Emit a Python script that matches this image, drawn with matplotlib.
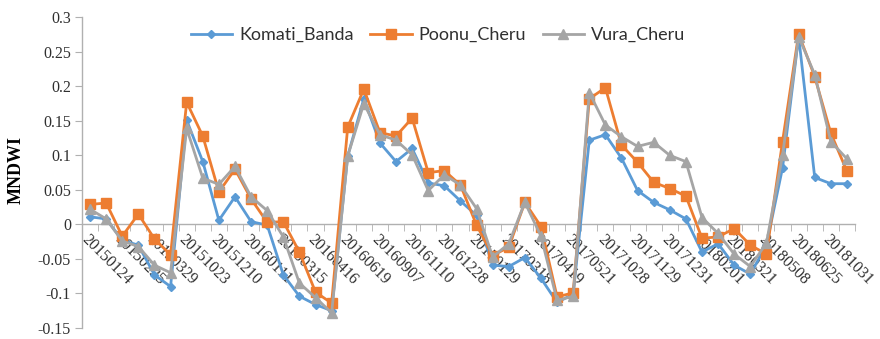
import matplotlib
matplotlib.use("Agg")
import matplotlib.pyplot as plt
from matplotlib.ticker import FixedLocator

plt.rcParams["font.family"] = ["Liberation Serif", "DejaVu Serif"]

date_labels = ["20150124", "20150225", "20150329", "20151023", "20151210", "20160111",
               "20160315", "20160416", "20160619", "20160907", "20161110", "20161228",
               "20170129", "20170318", "20170419", "20170521", "20171028", "20171129",
               "20171231", "20180201", "20180321", "20180508", "20180625", "20181031"]

komati_banda = [0.011, 0.008, -0.023, -0.030, -0.073, -0.090, 0.151, 0.091, 0.006, 0.040,
                0.004, -0.001, -0.073, -0.104, -0.116, -0.125, 0.099, 0.182, 0.118, 0.091,
                0.110, 0.060, 0.056, 0.034, 0.013, -0.059, -0.061, -0.048, -0.078, -0.113,
                -0.101, 0.122, 0.130, 0.096, 0.049, 0.032, 0.021, 0.008, -0.040, -0.028,
                -0.059, -0.072, -0.030, 0.082, 0.272, 0.068, 0.059, 0.059]

poonu_cheru = [0.029, 0.031, -0.017, 0.015, -0.021, -0.044, 0.177, 0.128, 0.047, 0.080,
               0.037, 0.003, 0.004, -0.040, -0.098, -0.114, 0.141, 0.196, 0.133, 0.128,
               0.154, 0.075, 0.078, 0.057, -0.001, -0.045, -0.033, 0.032, -0.003, -0.105,
               -0.099, 0.182, 0.198, 0.115, 0.090, 0.061, 0.052, 0.041, -0.020, -0.018,
               -0.006, -0.030, -0.043, 0.120, 0.276, 0.214, 0.132, 0.077]

vura_cheru = [0.022, 0.008, -0.024, -0.032, -0.059, -0.070, 0.139, 0.067, 0.058, 0.084,
              0.040, 0.020, -0.018, -0.085, -0.106, -0.128, 0.099, 0.175, 0.130, 0.122,
              0.101, 0.049, 0.072, 0.057, 0.023, -0.047, -0.028, 0.032, -0.017, -0.110,
              -0.104, 0.191, 0.144, 0.127, 0.113, 0.119, 0.100, 0.091, 0.010, -0.013,
              -0.043, -0.061, -0.027, 0.100, 0.272, 0.217, 0.120, 0.095]

y_ticks = [-0.15, -0.1, -0.05, 0, 0.05, 0.1, 0.15, 0.2, 0.25, 0.3]
y_tick_labels = ["-0.15", "-0.1", "-0.05", "0", "0.05", "0.1", "0.15", "0.2", "0.25", "0.3"]

n = len(komati_banda)
x = list(range(n))

fig = plt.figure(figsize=(8.8, 3.39), dpi=100)
ax = fig.add_axes([82 / 880, 11 / 339, (855 - 82) / 880, (328 - 17.3) / 339])

axis_gray = "#b0b0b0"
ax.plot(x, komati_banda, color="#5B9BD5", lw=2.0, marker="D", ms=4.5, label="Komati_Banda", zorder=3)
ax.plot(x, poonu_cheru, color="#ED7D31", lw=2.0, marker="s", ms=6.5, label="Poonu_Cheru", zorder=4)
ax.plot(x, vura_cheru, color="#A5A5A5", lw=2.0, marker="^", ms=7, label="Vura_Cheru", zorder=5)

ax.set_xlim(-0.5, n - 0.5)
ax.set_ylim(-0.15, 0.3)

for s in ["top", "right"]:
    ax.spines[s].set_visible(False)
ax.spines["left"].set_color(axis_gray)
ax.spines["left"].set_linewidth(1.0)
ax.spines["bottom"].set_position(("data", 0))
ax.spines["bottom"].set_color(axis_gray)
ax.spines["bottom"].set_linewidth(1.0)

ax.tick_params(axis="y", length=5, color=axis_gray, pad=3, labelsize=11.5, labelcolor="#303030")
ax.tick_params(axis="x", which="major", length=0, pad=5, labelsize=11.5, labelcolor="#303030")
ax.tick_params(axis="x", which="minor", length=5, color=axis_gray, direction="out")

ax.set_yticks(y_ticks)
ax.set_yticklabels(y_tick_labels, family="Liberation Serif")

ax.set_xticks(x[::2])
ax.set_xticklabels(date_labels, family="Liberation Serif", rotation=-45,
                   ha="left", va="top", rotation_mode="anchor")
ax.xaxis.set_minor_locator(FixedLocator([i + 0.5 for i in x]))

fig.text(16 / 880, 0.5, "MNDWI", rotation=90, ha="center", va="center",
         family="Liberation Serif", fontweight="bold", fontsize=13)

leg = fig.legend(loc="center", bbox_to_anchor=(438 / 880, 1 - 35 / 339), ncol=3,
                 frameon=False, prop={"family": "Lato", "size": 13},
                 handlelength=2.3, handletextpad=0.4, columnspacing=0.9, labelcolor="#303030")

fig.savefig("out.png", dpi=100)
